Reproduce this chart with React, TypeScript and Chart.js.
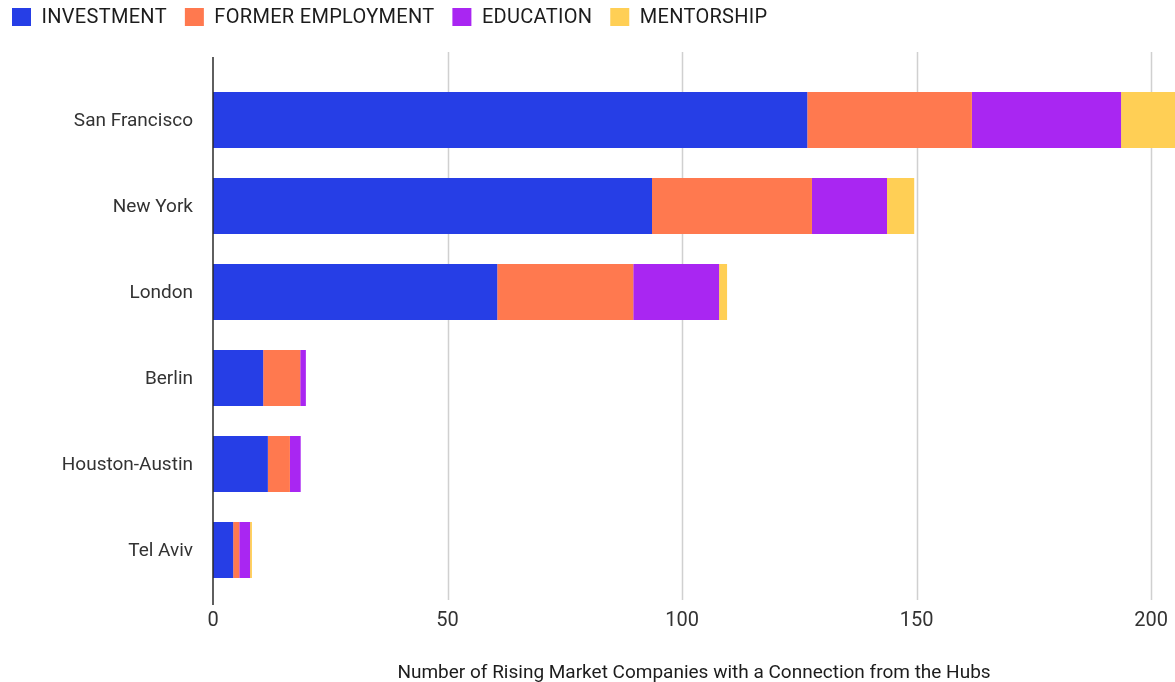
import React, { useEffect, useRef } from 'react';
import { Chart, registerables } from 'chart.js';

Chart.register(...registerables);

const categories = ['San Francisco', 'New York', 'London', 'Berlin', 'Houston-Austin', 'Tel Aviv'];
const seriesNames = ['INVESTMENT', 'FORMER EMPLOYMENT', 'EDUCATION', 'MENTORSHIP'];
const investment = [126.7, 93.6, 60.6, 10.7, 11.7, 4.3];
const formerEmployment = [35.1, 34.1, 29.0, 7.9, 4.7, 1.3];
const education = [31.8, 16.0, 18.3, 1.2, 2.3, 2.3];
const mentorship = [11.6, 5.8, 1.7, 0, 0, 0.4];
const xTicks = [0, 50, 100, 150, 200];
const colors = ['#263EE6', '#FF794F', '#A926F2', '#FFCF55'];
const axisTitle = 'Number of Rising Market Companies with a Connection from the Hubs';

const FONT = 'Roboto, "Noto Sans", sans-serif';

const gridPlugin = {
  id: 'customGrid',
  beforeDatasetsDraw(chart: any) {
    const { ctx, chartArea, scales } = chart;
    ctx.save();
    ctx.strokeStyle = '#d0d0d0';
    ctx.lineWidth = 1.5;
    xTicks.forEach((v) => {
      if (v === 0) return;
      const x = Math.round(scales.x.getPixelForValue(v)) + 0.5;
      ctx.beginPath();
      ctx.moveTo(x, chartArea.top - 25);
      ctx.lineTo(x, chartArea.bottom + 7);
      ctx.stroke();
    });
    ctx.restore();
  },
  afterDatasetsDraw(chart: any) {
    const { ctx, chartArea, scales } = chart;
    const x = scales.x.getPixelForValue(0);
    ctx.save();
    ctx.strokeStyle = '#2a2a2a';
    ctx.lineWidth = 1.5;
    ctx.beginPath();
    ctx.moveTo(x, chartArea.top - 20);
    ctx.lineTo(x, chartArea.bottom + 12);
    ctx.stroke();
    ctx.restore();
  },
};

const legendPlugin = {
  id: 'customLegend',
  afterDraw(chart: any) {
    const { ctx } = chart;
    ctx.save();
    ctx.font = `20px ${FONT}`;
    ctx.textBaseline = 'middle';
    ctx.textAlign = 'left';
    try {
      (ctx as any).letterSpacing = '0.3px';
    } catch (e) {
      /* ignore */
    }
    let x = 12;
    chart.data.datasets.forEach((ds: any) => {
      ctx.fillStyle = ds.backgroundColor;
      ctx.fillRect(x, 8, 19, 18);
      ctx.fillStyle = '#1c1c1c';
      const tx = x + 29.5;
      ctx.fillText(ds.label, tx, 17.5);
      x = tx + ctx.measureText(ds.label).width + 18;
    });
    ctx.restore();
  },
};

export default function App() {
  const ref = useRef<HTMLCanvasElement | null>(null);
  useEffect(() => {
    if (!ref.current) return;
    const data = [investment, formerEmployment, education, mentorship];
    const chart = new Chart(ref.current, {
      type: 'bar',
      data: {
        labels: categories,
        datasets: seriesNames.map((name, i) => ({
          label: name,
          data: data[i],
          backgroundColor: colors[i],
          borderWidth: 0,
          categoryPercentage: 1,
          barPercentage: 0.651,
        })),
      },
      options: {
        indexAxis: 'y',
        responsive: false,
        animation: false,
        layout: { padding: { top: 77, left: 0, right: 0, bottom: 0 } },
        plugins: {
          legend: { display: false },
          tooltip: { enabled: false },
        },
        scales: {
          x: {
            stacked: true,
            min: 0,
            max: 205.1,
            grid: { display: false, drawTicks: false },
            border: { display: false },
            ticks: {
              stepSize: 50,
              includeBounds: false,
              color: '#333333',
              font: { family: FONT, size: 20 },
              padding: 16,
            },
            title: {
              display: true,
              text: axisTitle,
              color: '#1c1c1c',
              font: { family: FONT, size: 19 },
              padding: { top: 0, bottom: -3 },
            },
            afterFit(scale: any) {
              scale.height = 89;
              scale.paddingRight = 0;
              scale.paddingLeft = 0;
            },
          },
          y: {
            stacked: true,
            grid: { display: false, drawTicks: false },
            border: { display: false },
            ticks: {
              color: '#333333',
              font: { family: FONT, size: 19 },
              padding: 20,
              labelOffset: 1.5,
            },
            afterFit(scale: any) {
              scale.width = 213;
            },
          },
        },
      },
      plugins: [gridPlugin, legendPlugin],
    });
    return () => chart.destroy();
  }, []);
  return (
    <div style={{ position: 'absolute', left: 0, top: 0, width: 1175, height: 682, background: '#fff' }}>
      <canvas ref={ref} width={1175} height={682} />
    </div>
  );
}
